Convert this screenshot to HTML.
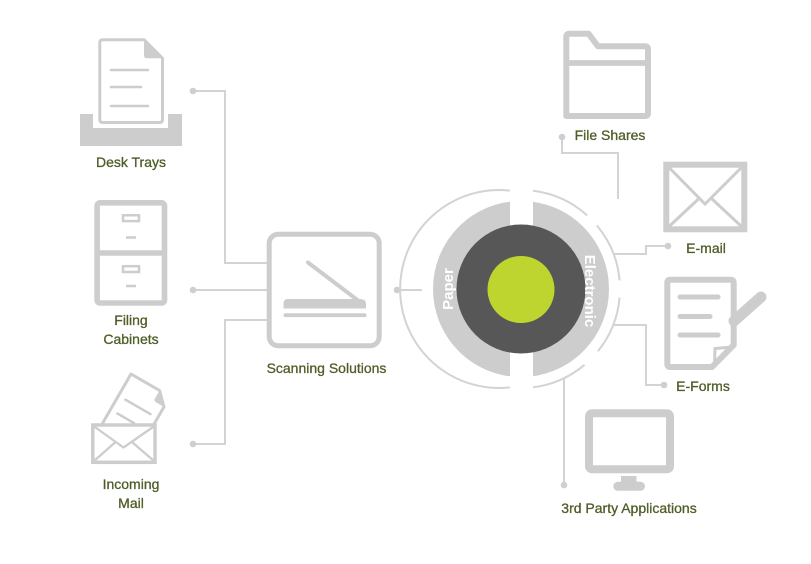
<!DOCTYPE html>
<html>
<head>
<meta charset="utf-8">
<style>
  html,body{margin:0;padding:0;background:#fff;}
  body{width:811px;height:564px;overflow:hidden;}
  svg{display:block;}
  .lbl{font-family:"Liberation Sans",sans-serif;font-size:14px;fill:#4f5d27;stroke:#4f5d27;stroke-width:0.3;text-anchor:middle;}
  .ring{font-family:"Liberation Sans",sans-serif;font-size:15px;font-weight:bold;fill:#fff;text-anchor:middle;}
</style>
</head>
<body>
<svg width="811" height="564" viewBox="0 0 811 564" xmlns="http://www.w3.org/2000/svg">
  <!-- connectors -->
  <g fill="none" stroke="#d3d3d3" stroke-width="2">
    <polyline points="193,91 225,91 225,263 268,263"/>
    <polyline points="193,290 268,290"/>
    <polyline points="193,444 225,444 225,320 268,320"/>
    <polyline points="397,290 422,290"/>
    <polyline points="562,137 562,153 618,153 618,199"/>
    <polyline points="668,246 646,246 646,254 613,254"/>
    <polyline points="613,325 646,325 646,385 664,385"/>
    <polyline points="564,378 564,485"/>
  </g>
  <g fill="#cfcfcf">
    <circle cx="193" cy="91" r="3.3"/>
    <circle cx="193" cy="290" r="3.3"/>
    <circle cx="193" cy="444" r="3.3"/>
    <circle cx="397" cy="290" r="3.3"/>
    <circle cx="562" cy="137" r="3.3"/>
    <circle cx="668" cy="246" r="3.3"/>
    <circle cx="664" cy="385" r="3.3"/>
    <circle cx="564" cy="485" r="3.3"/>
  </g>

  <!-- Desk Trays icon -->
  <rect x="80" y="114" width="102" height="32" fill="#cdcdcd"/>
  <rect x="93" y="108" width="75" height="20" fill="#fff"/>
  <path d="M102,39.8 H144 L162.5,58.3 V119.5 Q162.5,122.5 159.5,122.5 H102.8 Q99.8,122.5 99.8,119.5 V42.8 Q99.8,39.8 102.8,39.8 Z" fill="#fff" stroke="#cdcdcd" stroke-width="3"/>
  <path d="M144,39.8 L162.5,58.3 H147 Q144,58.3 144,55.3 Z" fill="#cdcdcd"/>
  <g stroke="#cdcdcd" stroke-width="2.6" stroke-linecap="round">
    <line x1="111" y1="70" x2="148" y2="70"/>
    <line x1="111" y1="87" x2="141" y2="87"/>
    <line x1="111" y1="106" x2="148" y2="106"/>
  </g>
  <text class="lbl" x="131" y="167">Desk Trays</text>

  <!-- Filing Cabinets icon -->
  <rect x="97.1" y="202.8" width="67.4" height="100.2" rx="3" fill="none" stroke="#cdcdcd" stroke-width="5.6"/>
  <line x1="97" y1="253" x2="164.5" y2="253" stroke="#cdcdcd" stroke-width="5.6"/>
  <g fill="none" stroke="#cdcdcd" stroke-width="2.5">
    <rect x="123" y="215.3" width="16" height="5.8"/>
    <rect x="123" y="266.2" width="16" height="5.8"/>
    <line x1="126" y1="237.5" x2="136" y2="237.5"/>
    <line x1="126" y1="286" x2="136" y2="286"/>
  </g>
  <text class="lbl" x="131" y="325">Filing</text>
  <text class="lbl" x="131" y="344">Cabinets</text>

  <!-- Incoming Mail icon -->
  <g transform="translate(131,374) rotate(30)">
    <path d="M0,0 H33 L45,12 V72 H0 Z" fill="#fff" stroke="#cdcdcd" stroke-width="3" stroke-linejoin="round"/>
    <path d="M33,0 L45,12 H36 Q33,12 33,9 Z" fill="#cdcdcd"/>
    <line x1="8" y1="25" x2="37" y2="25" stroke="#cdcdcd" stroke-width="2.5" stroke-linecap="round"/>
    <line x1="8" y1="41" x2="27" y2="41" stroke="#cdcdcd" stroke-width="2.5" stroke-linecap="round"/>
  </g>
  <rect x="92.8" y="425" width="62.2" height="37.3" fill="#fff" stroke="#cdcdcd" stroke-width="3.5"/>
  <g stroke="#cdcdcd" stroke-width="2.3" fill="none">
    <polyline points="93.5,426 123.5,447.5 154.5,426"/>
    <line x1="94" y1="461" x2="115" y2="442.5"/>
    <line x1="154" y1="461" x2="132.5" y2="442.5"/>
  </g>
  <text class="lbl" x="131" y="489">Incoming</text>
  <text class="lbl" x="131" y="508">Mail</text>

  <!-- Scanning Solutions icon -->
  <rect x="269.2" y="234.2" width="110" height="111.6" rx="9" fill="#fff" stroke="#cdcdcd" stroke-width="5"/>
  <line x1="308" y1="262.5" x2="364" y2="305" stroke="#cdcdcd" stroke-width="4" stroke-linecap="round"/>
  <path d="M288,299 H360 Q366,299 366,304 V308.5 H283.5 V303.5 Q283.5,299 288,299 Z" fill="#cdcdcd"/>
  <rect x="283.5" y="313.3" width="83" height="3.8" rx="1.8" fill="#cdcdcd"/>
  <text class="lbl" x="326.5" y="373">Scanning Solutions</text>

  <!-- central ring -->
  <circle cx="521" cy="289" r="76" fill="none" stroke="#cdcdcd" stroke-width="24"/>
  <rect x="510" y="195" width="23" height="190" fill="#fff"/>
  <g fill="none" stroke="#d3d3d3" stroke-width="2">
    <path d="M510,190.6 A99,99 0 1 0 510,387.4"/>
    <path d="M533.1,190.7 A99,99 0 0 1 587.2,215.4"/>
    <path d="M596.8,225.4 A99,99 0 0 1 619.6,280.4"/>
    <path d="M619.6,297.6 A99,99 0 0 1 597.9,351.3"/>
    <path d="M584.6,364.8 A99,99 0 0 1 533.1,387.3"/>
  </g>
  <circle cx="521" cy="289" r="64.5" fill="#575757"/>
  <circle cx="521" cy="289.5" r="33.5" fill="#bed530"/>
  <text class="ring" transform="translate(448,289) rotate(-90)" y="5">Paper</text>
  <text class="ring" transform="translate(590,291) rotate(90)" y="5">Electronic</text>

  <!-- File Shares icon -->
  <path d="M566.3,116 V36.7 Q566.3,33.7 569.3,33.7 H588.5 L598,46.3 H645 Q648,46.3 648,49.3 V113 Q648,116 645,116 Z" fill="none" stroke="#cdcdcd" stroke-width="6" stroke-linejoin="round"/>
  <line x1="566" y1="63" x2="648" y2="63" stroke="#cdcdcd" stroke-width="5.7"/>
  <text class="lbl" x="610" y="140">File Shares</text>

  <!-- E-mail icon -->
  <rect x="666.3" y="164.7" width="78" height="64.6" fill="none" stroke="#cdcdcd" stroke-width="6"/>
  <g stroke="#cdcdcd" stroke-width="3" fill="none">
    <polyline points="669,167.5 705,204 741.5,167.5"/>
    <line x1="669" y1="226.5" x2="699" y2="198.5"/>
    <line x1="741.5" y1="226.5" x2="711.5" y2="198.5"/>
  </g>
  <text class="lbl" x="706" y="253">E-mail</text>

  <!-- E-Forms icon -->
  <path d="M670.3,279.7 H730.7 Q733.7,279.7 733.7,282.7 V345 L712,367 H670.3 Q667.3,367 667.3,364 V282.7 Q667.3,279.7 670.3,279.7 Z" fill="none" stroke="#cdcdcd" stroke-width="6" stroke-linejoin="round"/>
  <polyline points="714.5,366 715,348.5 733,347" fill="none" stroke="#cdcdcd" stroke-width="3"/>
  <g stroke="#cdcdcd" stroke-width="5" stroke-linecap="round">
    <line x1="680" y1="297" x2="718" y2="297"/>
    <line x1="680" y1="316.5" x2="710" y2="316.5"/>
    <line x1="680" y1="335" x2="718" y2="335"/>
  </g>
  <line x1="734" y1="321" x2="761" y2="297" stroke="#cdcdcd" stroke-width="11" stroke-linecap="round"/>
  <text class="lbl" x="703" y="391">E-Forms</text>

  <!-- 3rd Party Applications icon -->
  <rect x="589" y="413.3" width="81" height="56" rx="3" fill="none" stroke="#cdcdcd" stroke-width="8"/>
  <rect x="621" y="476" width="15.5" height="7" fill="#cdcdcd"/>
  <rect x="613.3" y="481.8" width="31.7" height="9" rx="4.5" fill="#cdcdcd"/>
  <text class="lbl" x="629" y="513">3rd Party Applications</text>
</svg>
</body>
</html>
